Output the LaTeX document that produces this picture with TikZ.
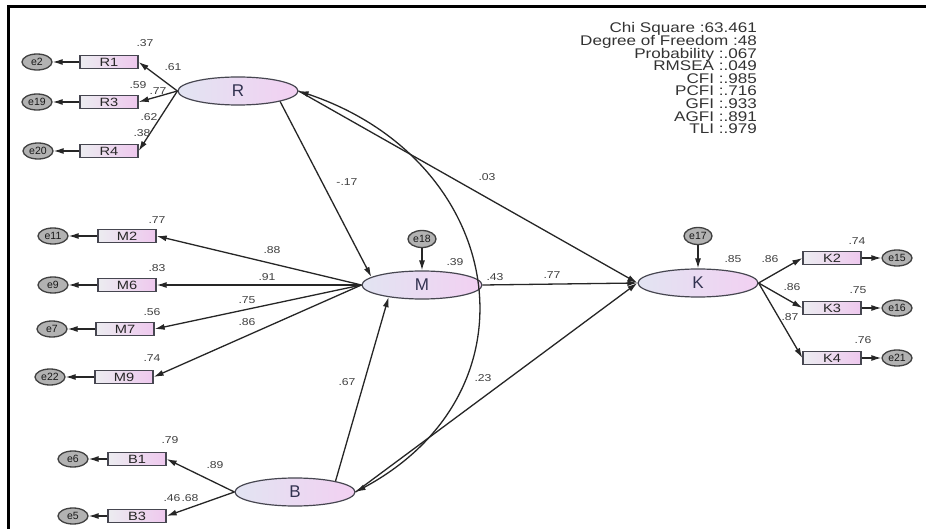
\documentclass[tikz,border=0pt]{standalone}
\usepackage{fontspec}
\setmainfont{Liberation Sans}
\newfontfamily\stretchfont[FakeStretch=1.22]{Liberation Sans}
\usetikzlibrary{arrows.meta,shapes.geometric}
\definecolor{latL}{RGB}{226,228,242}
\definecolor{latR}{RGB}{242,208,242}
\definecolor{boxL}{RGB}{236,236,240}
\definecolor{boxR}{RGB}{238,200,238}
\definecolor{edge}{RGB}{70,70,80}
\definecolor{latText}{RGB}{50,50,80}
\tikzset{
  latent/.style={ellipse, draw=edge, line width=1.2pt, left color=latL, right color=latR,
    minimum width=120pt, minimum height=28pt, inner sep=0pt, text=latText,
    font=\fontsize{17}{17}\selectfont},
  obsbox/.style={rectangle, draw=edge, line width=1.3pt, left color=boxL, right color=boxR,
    minimum width=58pt, minimum height=13pt, inner sep=0pt, text=black!85,
    font=\stretchfont\fontsize{12}{12}\selectfont},
  errnode/.style={ellipse, draw=black!75, line width=1.3pt, fill=gray!60,
    minimum width=30pt, minimum height=16pt, inner sep=0pt, text=black!90,
    font=\fontsize{10.5}{10.5}\selectfont},
  coef/.style={inner sep=0pt, text=black!75, font=\stretchfont\fontsize{10}{10}\selectfont},
  stat/.style={inner sep=0pt, anchor=base east, text=black!80, font=\stretchfont\fontsize{14}{14}\selectfont},
  arr/.style={draw=black!85, line width=1.3pt, -{Latex[length=10pt,width=6pt]}},
  darr/.style={draw=black!85, line width=1.3pt, {Latex[length=10pt,width=6pt]}-{Latex[length=10pt,width=6pt]}}
}
\begin{document}
\begin{tikzpicture}[x=1pt,y=-1pt]
\useasboundingbox (0,0) rectangle (926,529);
\fill[white] (0,0) rectangle (926,529);
\draw[line width=3pt] (8,529) -- (8,7) -- (926,7);

% latent variables
\node[latent] (R) at (238,91) {R};
\node[latent] (M) at (422,285) {M};
\node[latent] (K) at (698,283) {K};
\node[latent] (B) at (295,492) {B};

% R indicators
\node[obsbox] (R1) at (109,62) {R1};
\node[obsbox] (R3) at (109,102) {R3};
\node[obsbox] (R4) at (109,151) {R4};
\node[errnode] (e2) at (37,62) {e2};
\node[errnode] (e19) at (37,102) {e19};
\node[errnode] (e20) at (38,151) {e20};

% M indicators
\node[obsbox] (M2) at (127,236) {M2};
\node[obsbox] (M6) at (127,285) {M6};
\node[obsbox] (M7) at (125,329) {M7};
\node[obsbox] (M9) at (124,377) {M9};
\node[errnode] (e11) at (53,236) {e11};
\node[errnode] (e9) at (53,285) {e9};
\node[errnode] (e7) at (52,329) {e7};
\node[errnode] (e22) at (50,377) {e22};

% B indicators
\node[obsbox] (B1) at (137,459) {B1};
\node[obsbox] (B3) at (137,516) {B3};
\node[errnode] (e6) at (73,459) {e6};
\node[errnode] (e5) at (73,516) {e5};

% K indicators
\node[obsbox] (K2) at (832,258) {K2};
\node[obsbox] (K3) at (832,308) {K3};
\node[obsbox] (K4) at (832,358) {K4};
\node[errnode] (e15) at (897,258) {e15};
\node[errnode] (e16) at (897,308) {e16};
\node[errnode] (e21) at (897,358) {e21};

% structural errors
\node[errnode, minimum width=28pt, minimum height=17pt] (e18) at (422,239) {e18};
\node[errnode, minimum width=28pt, minimum height=17pt] (e17) at (698,236) {e17};

% measurement arrows
\foreach \b/\e in {R1/e2,R3/e19,R4/e20,M2/e11,M6/e9,M7/e7,M9/e22,B1/e6,B3/e5,K2/e15,K3/e16,K4/e21}
  \draw[arr] (\b) -- (\e);
\foreach \b in {R1,R3,R4} \draw[arr] (R.west) -- (\b.east);
\foreach \b in {M2,M6,M7,M9} \draw[arr] (M.west) -- (\b.east);
\foreach \b in {B1,B3} \draw[arr] (B.west) -- (\b.east);
\foreach \b in {K2,K3,K4} \draw[arr] (K.east) -- (\b.west);
\draw[arr] (e18) -- (M);
\draw[arr] (e17) -- (K);

% structural arrows
\draw[arr] (R.-14) -- (M.171);
\draw[arr] (B.15) -- (M.200);
\draw[arr] (R.east) -- (K.west);
\draw[arr] (M.east) -- (K.west);
\draw[arr] (B.east) -- (K.west);
\draw[darr] (R.east) .. controls (505,160) and (545,390) .. (B.east);

% coefficients
\node[coef] (c1) at (145,43) {.37};
\node[coef] (c2) at (173,67) {.61};
\node[coef] (c3) at (138,85) {.59};
\node[coef] (c4) at (158,91) {.77};
\node[coef] (c5) at (149,117) {.62};
\node[coef] (c6) at (142,133) {.38};
\node[coef] (c7) at (157,220) {.77};
\node[coef] (c8) at (272,250) {.88};
\node[coef] (c9) at (157,268) {.83};
\node[coef] (c10) at (267,277) {.91};
\node[coef] (c11) at (152,312) {.56};
\node[coef] (c12) at (247,300) {.75};
\node[coef] (c13) at (152,358) {.74};
\node[coef] (c14) at (247,322) {.86};
\node[coef] (c15) at (170,440) {.79};
\node[coef] (c16) at (215,465) {.89};
\node[coef] (c17) at (172,498) {.46};
\node[coef] (c18) at (190,498) {.68};
\node[coef] (c19) at (857,241) {.74};
\node[coef] (c20) at (770,259) {.86};
\node[coef] (c21) at (858,290) {.75};
\node[coef] (c22) at (792,287) {.86};
\node[coef] (c23) at (863,340) {.76};
\node[coef] (c24) at (790,317) {.87};
\node[coef] (c25) at (347,182) {-.17};
\node[coef] (c26) at (487,177) {.03};
\node[coef] (c27) at (455,262) {.39};
\node[coef] (c28) at (495,277) {.43};
\node[coef] (c29) at (552,275) {.77};
\node[coef] (c30) at (733,259) {.85};
\node[coef] (c31) at (347,382) {.67};
\node[coef] (c32) at (483,378) {.23};

% fit statistics
\foreach \t [count=\i from 0] in {Chi Square :63.461, Degree of Freedom :48, Probability :.067, RMSEA :.049, CFI :.985, PCFI :.716, GFI :.933, AGFI :.891, TLI :.979}
  \node[stat] (s\i) at (757,{33+12.6*\i}) {\t};
\end{tikzpicture}
\end{document}
